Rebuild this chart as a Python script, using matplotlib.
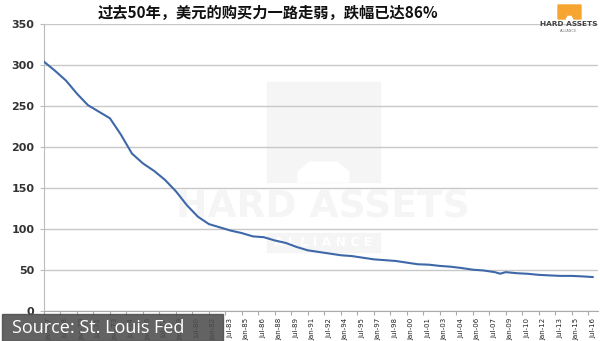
import numpy as np
import pandas as pd
import matplotlib
matplotlib.use('Agg')
import matplotlib.pyplot as plt
import matplotlib.transforms as mtransforms
from matplotlib.patches import Rectangle, Polygon

plt.rcParams['font.family'] = ['Noto Sans CJK SC', 'DejaVu Sans']

# ----- дані: купівельна спроможність долара (січень кожного року) -----
dates = ['1967-01', '1968-01', '1969-01', '1970-01', '1971-01', '1972-01', '1973-01',
         '1974-01', '1975-01', '1976-01', '1977-01', '1978-01', '1979-01', '1980-01',
         '1981-01', '1982-01', '1983-01', '1984-01', '1985-01', '1986-01', '1987-01',
         '1988-01', '1989-01', '1990-01', '1991-01', '1992-01', '1993-01', '1994-01',
         '1995-01', '1996-01', '1997-01', '1998-01', '1999-01', '2000-01', '2001-01',
         '2002-01', '2003-01', '2004-01', '2005-01', '2006-01', '2007-01', '2008-01',
         '2008-07', '2009-01', '2010-01', '2011-01', '2012-01', '2013-01', '2014-01',
         '2015-01', '2016-01', '2016-12']
values = [304, 293, 281, 265, 251, 243, 235,
          215, 192, 180, 171, 160, 146, 129,
          115, 106, 102, 98, 95, 91, 90,
          86, 83, 78, 74, 72, 70, 68,
          67, 65, 63, 62, 61, 59, 57,
          56.5, 55, 54, 52.4, 50.4, 49.4, 47.4,
          45.5, 47.4, 46.1, 45.4, 44.1, 43.4, 42.8,
          42.8, 42.2, 41.4]

tick_labels = ['Jan-67', 'Jul-68', 'Jan-70', 'Jul-71', 'Jan-73', 'Jul-74', 'Jan-76',
               'Jul-77', 'Jan-79', 'Jul-80', 'Jan-82', 'Jul-83', 'Jan-85', 'Jul-86',
               'Jan-88', 'Jul-89', 'Jan-91', 'Jul-92', 'Jan-94', 'Jul-95', 'Jan-97',
               'Jul-98', 'Jan-00', 'Jul-01', 'Jan-03', 'Jul-04', 'Jan-06', 'Jul-07',
               'Jan-09', 'Jul-10', 'Jan-12', 'Jul-13', 'Jan-15', 'Jul-16']
y_ticks = [0, 50, 100, 150, 200, 250, 300, 350]

title = '过去50年，美元的购买力一路走弱，跌幅已达86%'
source = 'Source: St. Louis Fed'

# дробові роки
dt = pd.to_datetime(dates)
x = dt.year + (dt.month - 1) / 12.0
tick_pos = 1967 + 1.5 * np.arange(len(tick_labels))

fig = plt.figure(figsize=(6, 3.41), dpi=100)
W, H = 600, 341


def fx(px):
    return px / W


def fy(py):
    return 1 - py / H


# ----- водяний знак -----
wm = '#f5f5f5'
fig.patches.append(Rectangle((fx(267), fy(182)), fx(113), fy(82) - fy(182),
                             transform=fig.transFigure, color=wm, zorder=-2))
fig.patches.append(Polygon([(fx(298), fy(182)), (fx(298), fy(172)), (fx(310), fy(162)),
                            (fx(337), fy(162)), (fx(349), fy(172)), (fx(349), fy(182))],
                           closed=True, transform=fig.transFigure, color='white', zorder=-1.5))
fig.text(fx(323), fy(207), 'HARD ASSETS', ha='center', va='center', fontsize=27,
         fontweight='bold', color=wm, family='DejaVu Sans', zorder=-1)
fig.patches.append(Rectangle((fx(267), fy(252)), fx(113), fy(233) - fy(252),
                             transform=fig.transFigure, color=wm, zorder=-2))
fig.text(fx(323), fy(243), 'A L L I A N C E', ha='center', va='center', fontsize=9,
         fontweight='bold', color='white', family='DejaVu Sans', zorder=-1)

# ----- графік -----
ax = fig.add_axes([fx(44), fy(311), fx(554), fy(24) - fy(311)])
ax.set_facecolor('none')
ax.plot(x, values, color='#3f68a8', lw=1.5, zorder=3)

ax.set_xlim(1967, 2017.4)
ax.set_ylim(0, 350)
ax.set_yticks(y_ticks)
ax.set_yticklabels([str(v) for v in y_ticks], fontsize=8, fontweight='bold', color='#333333',
                   family='DejaVu Sans')
ax.grid(axis='y', color='#c8c8c8', lw=1)
ax.set_axisbelow(True)
ax.tick_params(axis='y', length=3, color='#bbbbbb', pad=4)

ax.set_xticks(tick_pos)
ax.set_xticklabels(tick_labels, rotation=90, fontsize=5, color='#222222',
                   family='DejaVu Sans')
ax.tick_params(axis='x', length=3, color='#aaaaaa', pad=2)
shift = mtransforms.ScaledTranslation(5 / 100, 0, fig.dpi_scale_trans)
for lbl in ax.get_xticklabels():
    lbl.set_transform(lbl.get_transform() + shift)

for s in ['top', 'right']:
    ax.spines[s].set_visible(False)
ax.spines['left'].set_color('#bbbbbb')
ax.spines['bottom'].set_color('#aaaaaa')

# ----- заголовок -----
fig.text(fx(268), fy(13), title, ha='center', va='center', fontsize=11, fontweight='bold',
         color='#111111')

# ----- логотип -----
fig.patches.append(Polygon([(fx(558), fy(5)), (fx(581), fy(5)), (fx(581), fy(19)),
                            (fx(574), fy(19)), (fx(572), fy(15)), (fx(567), fy(15)),
                            (fx(565), fy(19)), (fx(558), fy(19))],
                           closed=True, transform=fig.transFigure, color='#f6a531', zorder=5))
fig.text(fx(569), fy(24), 'HARD ASSETS', ha='center', va='center', fontsize=5.3,
         fontweight='bold', color='#444444', family='DejaVu Sans', zorder=5)
fig.text(fx(569), fy(31), 'ALLIANCE', ha='center', va='center', fontsize=2.5,
         color='#777777', family='DejaVu Sans', zorder=5)

# ----- джерело -----
fig.patches.append(Rectangle((fx(2), 0), fx(221), fy(314), transform=fig.transFigure,
                             color='#4d4d4d', alpha=0.88, zorder=10))
fig.text(fx(12), fy(328), source, ha='left', va='center', fontsize=13, color='white',
         family='Open Sans', zorder=11)

fig.savefig('out.png', dpi=100)
